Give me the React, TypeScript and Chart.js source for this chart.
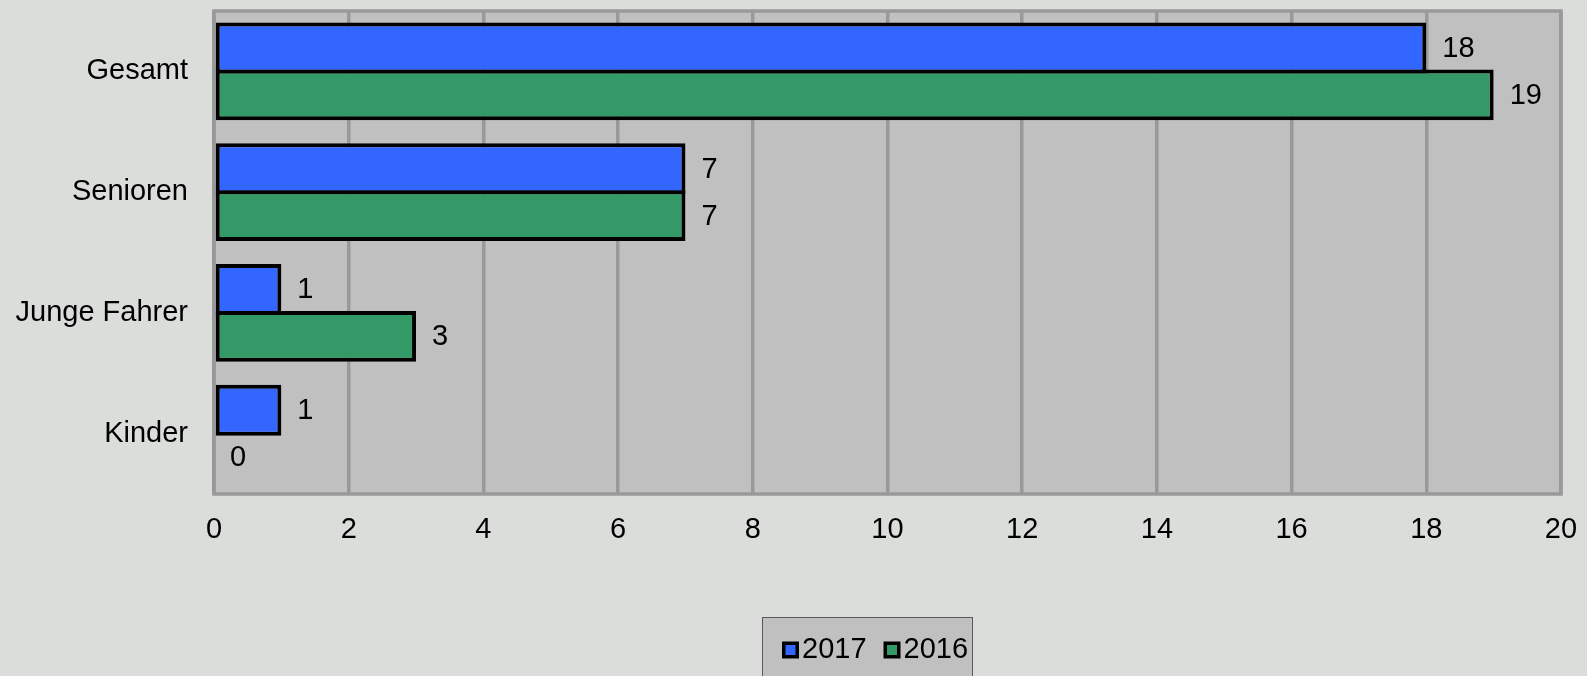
import React, { useEffect, useRef } from "react";
import { Chart, registerables } from "chart.js";

Chart.register(...registerables);

const categories = ["Gesamt", "Senioren", "Junge Fahrer", "Kinder"];
const values2017 = [18, 7, 1, 1];
const values2016 = [19, 7, 3, 0];
const seriesNames = ["2017", "2016"];
const xTicks = [0, 2, 4, 6, 8, 10, 12, 14, 16, 18, 20];

const FONT = "Liberation Sans, Arial, sans-serif";
const FONT_SIZE = 29;
const PAGE_BG = "#dbdddb";
const PLOT_BG = "#c0c0c0";
const GRID = "#999999";
const BW = 4;

const bgPlugin = {
  id: "bgPlugin",
  beforeDraw(chart: any) {
    const { ctx, chartArea } = chart;
    ctx.save();
    ctx.fillStyle = PAGE_BG;
    ctx.fillRect(0, 0, chart.width, chart.height);
    ctx.fillStyle = PLOT_BG;
    ctx.fillRect(chartArea.left, chartArea.top, chartArea.right - chartArea.left, chartArea.bottom - chartArea.top);
    ctx.restore();
  },
  beforeDatasetsDraw(chart: any) {
    const { ctx, chartArea } = chart;
    ctx.save();
    ctx.strokeStyle = GRID;
    ctx.lineWidth = 3.5;
    ctx.strokeRect(chartArea.left, chartArea.top, chartArea.right - chartArea.left, chartArea.bottom - chartArea.top);
    ctx.restore();
  },
};

// Make the two bars of each category share their middle border, as in the original
const overlapPlugin = {
  id: "overlapPlugin",
  afterDatasetsUpdate(chart: any) {
    chart.data.datasets.forEach((_ds: any, di: number) => {
      const meta = chart.getDatasetMeta(di);
      const dir = di === 0 ? 1 : -1;
      meta.data.forEach((bar: any) => {
        bar.height = bar.height + BW / 2;
        bar.y = bar.y + (dir * BW) / 4;
      });
    });
  },
};

const labelPlugin = {
  id: "labelPlugin",
  afterDatasetsDraw(chart: any) {
    const { ctx } = chart;
    ctx.save();
    ctx.font = `${FONT_SIZE}px ${FONT}`;
    ctx.fillStyle = "#000";
    ctx.textAlign = "left";
    ctx.textBaseline = "middle";
    chart.data.datasets.forEach((ds: any, di: number) => {
      const meta = chart.getDatasetMeta(di);
      meta.data.forEach((bar: any, i: number) => {
        ctx.fillText(String(ds.data[i]), bar.x + 16, bar.y + 1);
      });
    });
    ctx.restore();
  },
};

const legendPlugin = {
  id: "legendPlugin",
  afterDraw(chart: any) {
    const { ctx } = chart;
    ctx.save();
    const boxL = 762, boxT = 617, boxR = 973, boxB = 676;
    ctx.fillStyle = PLOT_BG;
    ctx.fillRect(boxL, boxT, boxR - boxL, boxB - boxT);
    ctx.strokeStyle = "#5a5a5a";
    ctx.lineWidth = 1;
    ctx.strokeRect(boxL + 0.5, boxT + 0.5, boxR - boxL - 1, boxB - boxT + 2);
    ctx.font = `${FONT_SIZE}px ${FONT}`;
    ctx.textBaseline = "middle";
    ctx.textAlign = "left";
    let x = 782;
    const cy = 650;
    chart.data.datasets.forEach((ds: any) => {
      ctx.fillStyle = "#000";
      ctx.fillRect(x, cy - 8.5, 17, 17);
      ctx.fillStyle = ds.backgroundColor;
      ctx.fillRect(x + 3.5, cy - 5, 10, 10);
      ctx.fillStyle = "#000";
      ctx.fillText(ds.label, x + 20, cy);
      x += 20 + ctx.measureText(ds.label).width + 17;
    });
    ctx.restore();
  },
};

export default function App() {
  const ref = useRef<HTMLCanvasElement | null>(null);
  useEffect(() => {
    if (!ref.current) return;
    const chart = new Chart(ref.current, {
      type: "bar",
      data: {
        labels: categories,
        datasets: [
          {
            label: seriesNames[0],
            data: values2017,
            backgroundColor: "#3366ff",
            borderColor: "#000000",
            borderWidth: BW,
            borderSkipped: false,
            categoryPercentage: 0.81,
            barPercentage: 1,
          },
          {
            label: seriesNames[1],
            data: values2016,
            backgroundColor: "#339966",
            borderColor: "#000000",
            borderWidth: BW,
            borderSkipped: false,
            categoryPercentage: 0.81,
            barPercentage: 1,
          },
        ],
      },
      options: {
        indexAxis: "y",
        animation: false,
        responsive: true,
        maintainAspectRatio: false,
        layout: { padding: { left: 0, right: 26, top: 11, bottom: 0 } },
        plugins: { legend: { display: false }, tooltip: { enabled: false } },
        scales: {
          x: {
            min: 0,
            max: 20,
            afterFit(scale: any) {
              scale.height = 182;
              scale.paddingLeft = 0;
              scale.paddingRight = 0;
            },
            afterBuildTicks(scale: any) {
              scale.ticks = xTicks.map((v) => ({ value: v }));
            },
            grid: { color: GRID, lineWidth: 3.5, drawTicks: false },
            border: { display: false },
            ticks: {
              color: "#000",
              font: { family: FONT, size: FONT_SIZE },
              padding: 19,
              maxRotation: 0,
              autoSkip: false,
            },
          },
          y: {
            afterFit(scale: any) {
              scale.width = 214;
              scale.paddingTop = 0;
              scale.paddingBottom = 0;
            },
            grid: { display: false, drawTicks: false },
            border: { display: false },
            ticks: {
              color: "#000",
              font: { family: FONT, size: FONT_SIZE },
              padding: 26,
            },
          },
        },
      },
      plugins: [bgPlugin, overlapPlugin, labelPlugin, legendPlugin],
    });
    return () => chart.destroy();
  }, []);
  return (
    <div style={{ position: "fixed", left: 0, top: 0, width: 1587, height: 676, background: PAGE_BG }}>
      <canvas ref={ref} />
    </div>
  );
}
